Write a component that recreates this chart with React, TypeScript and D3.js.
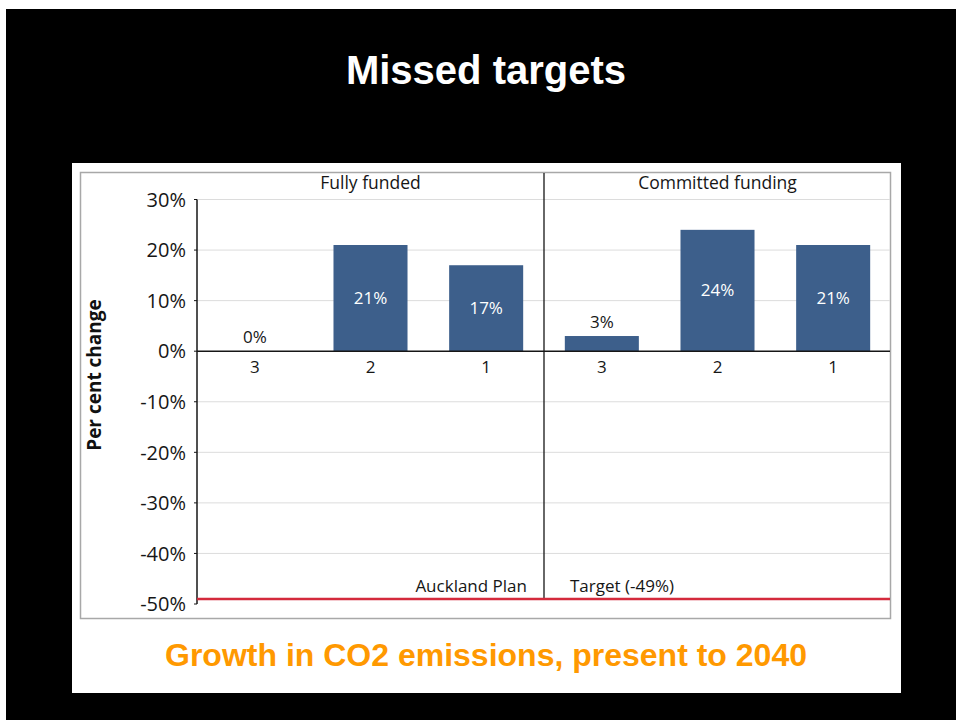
import React from "react";
import * as d3 from "d3";

const title = "Missed targets";
const subtitle = "Growth in CO2 emissions, present to 2040";
const groups = ["Fully funded", "Committed funding"];
const categories = ["3", "2", "1"];
const fullyFunded = [0, 21, 17];
const committedFunding = [3, 24, 21];
const targetValue = -49;
const yTicks = [30, 20, 10, 0, -10, -20, -30, -40, -50];
const yAxisTitle = "Per cent change";
const leftNote = "Auckland Plan";
const rightNote = "Target (-49%)";

const W = 956;
const H = 720;
const FONT = "'Open Sans', 'Noto Sans', sans-serif";
const BAR = "#3d5f8b";
const INK = "#161616";

export default function App() {
  const plotL = 197;
  const plotR = 891;
  const y = d3.scaleLinear().domain([-50, 30]).range([604, 199.5]);
  const outer = d3.scaleBand<string>().domain(groups).range([plotL, plotR]);
  const inner = d3
    .scaleBand<string>()
    .domain(categories)
    .range([0, outer.bandwidth()])
    .paddingInner(0.36)
    .paddingOuter(0.18);
  const series = [fullyFunded, committedFunding];
  const divX = outer(groups[1])!;

  return (
    <svg
      width={W}
      height={H}
      style={{ position: "absolute", left: 0, top: 0, display: "block" }}
    >
      <rect x={0} y={0} width={W} height={H} fill="#fff" />
      <rect x={6} y={9} width={W - 6} height={H - 9} fill="#000" />
      <text
        x={486}
        y={84}
        textAnchor="middle"
        fill="#fff"
        fontFamily="'Liberation Sans', Arial, sans-serif"
        fontWeight="bold"
        fontSize={40}
      >
        {title}
      </text>
      <rect x={72} y={163} width={829} height={530} fill="#fff" />
      <rect
        x={80.5}
        y={172.5}
        width={810}
        height={446}
        fill="none"
        stroke="#a8a8a8"
        strokeWidth={1.5}
      />
      {/* gridlines */}
      {yTicks
        .filter((t) => t !== 0 && t !== -50)
        .map((t) => (
          <line
            key={"g" + t}
            x1={plotL}
            x2={plotR - 1}
            y1={y(t)}
            y2={y(t)}
            stroke="#dcdcdc"
            strokeWidth={1}
          />
        ))}
      {/* tick labels */}
      {yTicks.map((t) => (
        <g key={"t" + t}>
          <line x1={plotL - 3} x2={plotL} y1={y(t)} y2={y(t)} stroke={INK} strokeWidth={1} />
          <text
            x={186}
            y={y(t)}
            dy="0.36em"
            textAnchor="end"
            fontFamily={FONT}
            fontSize={20}
            fill={INK}
          >
            {t + "%"}
          </text>
        </g>
      ))}
      {/* bars */}
      {series.map((vals, gi) =>
        vals.map((v, ci) => {
          const x0 = outer(groups[gi])! + inner(categories[ci])!;
          const bw = inner.bandwidth();
          const top = y(Math.max(0, v));
          const h = Math.abs(y(v) - y(0));
          const inside = v > 10;
          return (
            <g key={gi + "-" + ci}>
              {h > 0 && <rect x={x0} y={top} width={bw} height={h} fill={BAR} />}
              <text
                x={x0 + bw / 2}
                y={inside ? (y(v) + y(0)) / 2 : y(v) - 8}
                dy={inside ? "0.35em" : "0"}
                textAnchor="middle"
                fontFamily={FONT}
                fontSize={17}
                fill={inside ? "#fff" : INK}
              >
                {v + "%"}
              </text>
              <text
                x={x0 + bw / 2}
                y={y(0) + 22}
                textAnchor="middle"
                fontFamily={FONT}
                fontSize={17}
                fill={INK}
              >
                {categories[ci]}
              </text>
            </g>
          );
        })
      )}
      {/* group headers */}
      {groups.map((g) => (
        <text
          key={g}
          x={outer(g)! + outer.bandwidth() / 2}
          y={189}
          textAnchor="middle"
          fontFamily={FONT}
          fontSize={17.5}
          fill={INK}
        >
          {g}
        </text>
      ))}
      {/* zero line */}
      <line x1={plotL} x2={plotR - 1} y1={y(0)} y2={y(0)} stroke={INK} strokeWidth={1.5} />
      {/* divider */}
      <line x1={divX} x2={divX} y1={173} y2={y(targetValue)} stroke={INK} strokeWidth={1.3} />
      {/* y axis */}
      <line x1={plotL} x2={plotL} y1={y(30)} y2={y(-50)} stroke={INK} strokeWidth={1.5} />
      {/* target line */}
      <line
        x1={plotL}
        x2={plotR - 1}
        y1={y(targetValue)}
        y2={y(targetValue)}
        stroke="#d42a3c"
        strokeWidth={2.5}
      />
      <text
        x={divX - 17}
        y={592}
        textAnchor="end"
        fontFamily={FONT}
        fontSize={17}
        fill={INK}
      >
        {leftNote}
      </text>
      <text
        x={divX + 26}
        y={592}
        textAnchor="start"
        fontFamily={FONT}
        fontSize={17}
        fill={INK}
      >
        {rightNote}
      </text>
      <text
        transform={`translate(101,375) rotate(-90)`}
        textAnchor="middle"
        fontFamily={FONT}
        fontWeight="bold"
        fontSize={19}
        fill="#111"
      >
        {yAxisTitle}
      </text>
      <text
        x={486}
        y={666}
        textAnchor="middle"
        fill="#ff9900"
        fontFamily="'Liberation Sans', Arial, sans-serif"
        fontWeight="bold"
        fontSize={32}
      >
        {subtitle}
      </text>
    </svg>
  );
}
